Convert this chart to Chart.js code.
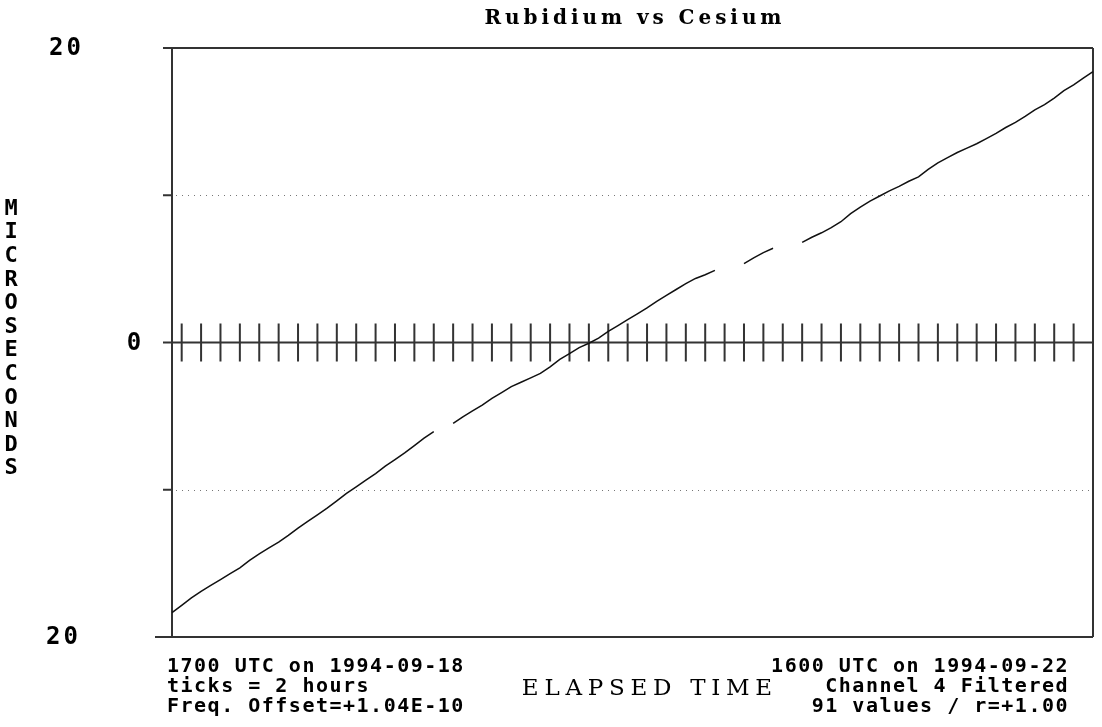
<!DOCTYPE html>
<html>
<head>
<meta charset="utf-8">
<script src="https://cdn.jsdelivr.net/npm/chart.js@4/dist/chart.umd.min.js"></script>
<style>
  html, body { margin: 0; padding: 0; background: #fff; }
  #wrap { width: 1102px; height: 727px; }
</style>
</head>
<body>
<div id="wrap"><canvas id="rbCsChart" width="1102" height="727"></canvas></div>
<script>
// elapsed hours since 1700 UTC on 1994-09-18 (one slot per hour)
var hours = [0, 1, 2, 3, 4, 5, 6, 7, 8, 9, 10, 11, 12, 13, 14, 15, 16, 17, 18, 19,
  20, 21, 22, 23, 24, 25, 26, 27, 28, 29, 30, 31, 32, 33, 34, 35, 36, 37, 38, 39,
  40, 41, 42, 43, 44, 45, 46, 47, 48, 49, 50, 51, 52, 53, 54, 55, 56, 57, 58, 59,
  60, 61, 62, 63, 64, 65, 66, 67, 68, 69, 70, 71, 72, 73, 74, 75, 76, 77, 78, 79,
  80, 81, 82, 83, 84, 85, 86, 87, 88, 89, 90, 91, 92, 93, 94, 95];

// Rb - Cs time difference, microseconds (null = missing reading)
var microseconds = [
  -18.35, -17.85, -17.35, -16.9, -16.5, -16.1, -15.7, -15.3, -14.8, -14.35,
  -13.95, -13.55, -13.1, -12.6, -12.15, -11.7, -11.25, -10.75, -10.25, -9.8,
  -9.35, -8.9, -8.4, -7.95, -7.5, -7.0, -6.5, -6.05, null, -5.5,
  -5.05, -4.65, -4.25, -3.8, -3.4, -3.0, -2.7, -2.4, -2.1, -1.65,
  -1.15, -0.75, -0.35, -0.05, 0.3, 0.75, 1.15, 1.55, 1.95, 2.35,
  2.8, 3.2, 3.6, 4.0, 4.35, 4.6, 4.9, null, null, 5.35,
  5.75, 6.1, 6.4, null, null, 6.8, 7.15, 7.45, 7.8, 8.2,
  8.75, 9.2, 9.6, 9.95, 10.3, 10.6, 10.95, 11.25, 11.75, 12.2,
  12.55, 12.9, 13.2, 13.5, 13.85, 14.2, 14.6, 14.95, 15.35, 15.8,
  16.15, 16.6, 17.1, 17.5, 17.95, 18.4
];

var yLabels = [20, 0, -20];
var dottedLines = [10, -10];
var tickEvery = 2; // hours between the marks on the zero line

var titleText = 'Rubidium vs Cesium';
var yAxisText = 'MICROSECONDS';
var xAxisText = 'ELAPSED TIME';
var leftNotes = ['1700 UTC on 1994-09-18', 'ticks = 2 hours', 'Freq. Offset=+1.04E-10'];
var rightNotes = ['1600 UTC on 1994-09-22', 'Channel 4 Filtered', '91 values / r=+1.00'];

var monoFont = '"DejaVu Sans Mono", monospace';

// draw centred text stretched (by letter spacing) to a given width
function fitText(ctx, text, cx, cy, width) {
  ctx.letterSpacing = '0px';
  var w = ctx.measureText(text).width;
  var sp = (width - w) / text.length;
  ctx.letterSpacing = sp + 'px';
  ctx.textAlign = 'center';
  ctx.fillText(text, cx + sp / 2, cy);
}

var framePlugin = {
  id: 'frame',
  beforeDatasetsDraw: function (chart) {
    var ctx = chart.ctx;
    var a = chart.chartArea;
    var xs = chart.scales.x, ys = chart.scales.y;
    ctx.save();

    // dotted lines at +/-10
    ctx.strokeStyle = '#777';
    ctx.lineWidth = 1;
    ctx.setLineDash([1, 5]);
    dottedLines.forEach(function (v) {
      var py = Math.round(ys.getPixelForValue(v)) + 0.5;
      ctx.beginPath();
      ctx.moveTo(a.left + 4, py);
      ctx.lineTo(a.right, py);
      ctx.stroke();
    });
    ctx.setLineDash([]);

    // frame
    ctx.strokeStyle = '#333';
    ctx.lineWidth = 2;
    ctx.beginPath();
    ctx.moveTo(a.left - 9, a.top); ctx.lineTo(a.right, a.top);
    ctx.moveTo(a.left - 17, a.bottom); ctx.lineTo(a.right, a.bottom);
    ctx.moveTo(a.left, a.top); ctx.lineTo(a.left, a.bottom);
    ctx.moveTo(a.right, a.top); ctx.lineTo(a.right, a.bottom);
    dottedLines.forEach(function (v) {
      var py = ys.getPixelForValue(v);
      ctx.moveTo(a.left - 9, py); ctx.lineTo(a.left, py);
    });
    // zero line and its hour marks
    var zy = ys.getPixelForValue(0);
    ctx.moveTo(a.left - 9, zy); ctx.lineTo(a.right, zy);
    for (var h = 1; h < hours.length - 1; h += tickEvery) {
      var px = xs.getPixelForValue(h);
      ctx.moveTo(px, zy - 19); ctx.lineTo(px, zy + 19);
    }
    ctx.stroke();
    ctx.restore();
  },
  afterDraw: function (chart) {
    var ctx = chart.ctx;
    var a = chart.chartArea;
    var ys = chart.scales.y;
    ctx.save();
    ctx.fillStyle = '#000';
    ctx.textBaseline = 'middle';

    // title
    ctx.font = 'bold 20px "DejaVu Serif", serif';
    fitText(ctx, titleText, 633, 19, 301);

    // y labels (the original prints no minus sign)
    ctx.font = 'bold 24px ' + monoFont;
    yLabels.forEach(function (v) {
      var px = v === 0 ? 134 : (v > 0 ? 65 : 62);
      fitText(ctx, String(Math.abs(v)), px, ys.getPixelForValue(v) + 1, v === 0 ? 17 : 35);
    });

    // stacked y axis title
    ctx.font = 'bold 22px ' + monoFont;
    ctx.letterSpacing = '0px';
    ctx.textAlign = 'center';
    for (var i = 0; i < yAxisText.length; i++) {
      ctx.fillText(yAxisText[i], 11, 209 + i * 23.6);
    }

    // notes under the plot
    ctx.font = 'bold 20px ' + monoFont;
    ctx.letterSpacing = '1.5px';
    ctx.textAlign = 'left';
    leftNotes.forEach(function (t, i) { ctx.fillText(t, 167, 667 + i * 20); });
    ctx.textAlign = 'right';
    rightNotes.forEach(function (t, i) { ctx.fillText(t, 1069, 667 + i * 20); });

    ctx.font = '23px "DejaVu Serif", serif';
    fitText(ctx, xAxisText, 647, 689, 256);
    ctx.restore();
  }
};

var chart = new Chart(document.getElementById('rbCsChart'), {
  type: 'line',
  data: {
    labels: hours,
    datasets: [{
      label: 'Rubidium vs Cesium',
      data: microseconds,
      borderColor: '#111',
      borderWidth: 1.5,
      pointRadius: 0,
      tension: 0,
      spanGaps: false,
      fill: false
    }]
  },
  options: {
    responsive: false,
    animation: false,
    layout: { padding: { left: 172, top: 48, right: 9, bottom: 90 } },
    plugins: { legend: { display: false }, tooltip: { enabled: false } },
    scales: {
      x: { type: 'category', display: false, offset: false },
      y: { type: 'linear', display: false, min: -20, max: 20 }
    }
  },
  plugins: [framePlugin]
});
</script>
</body>
</html>
